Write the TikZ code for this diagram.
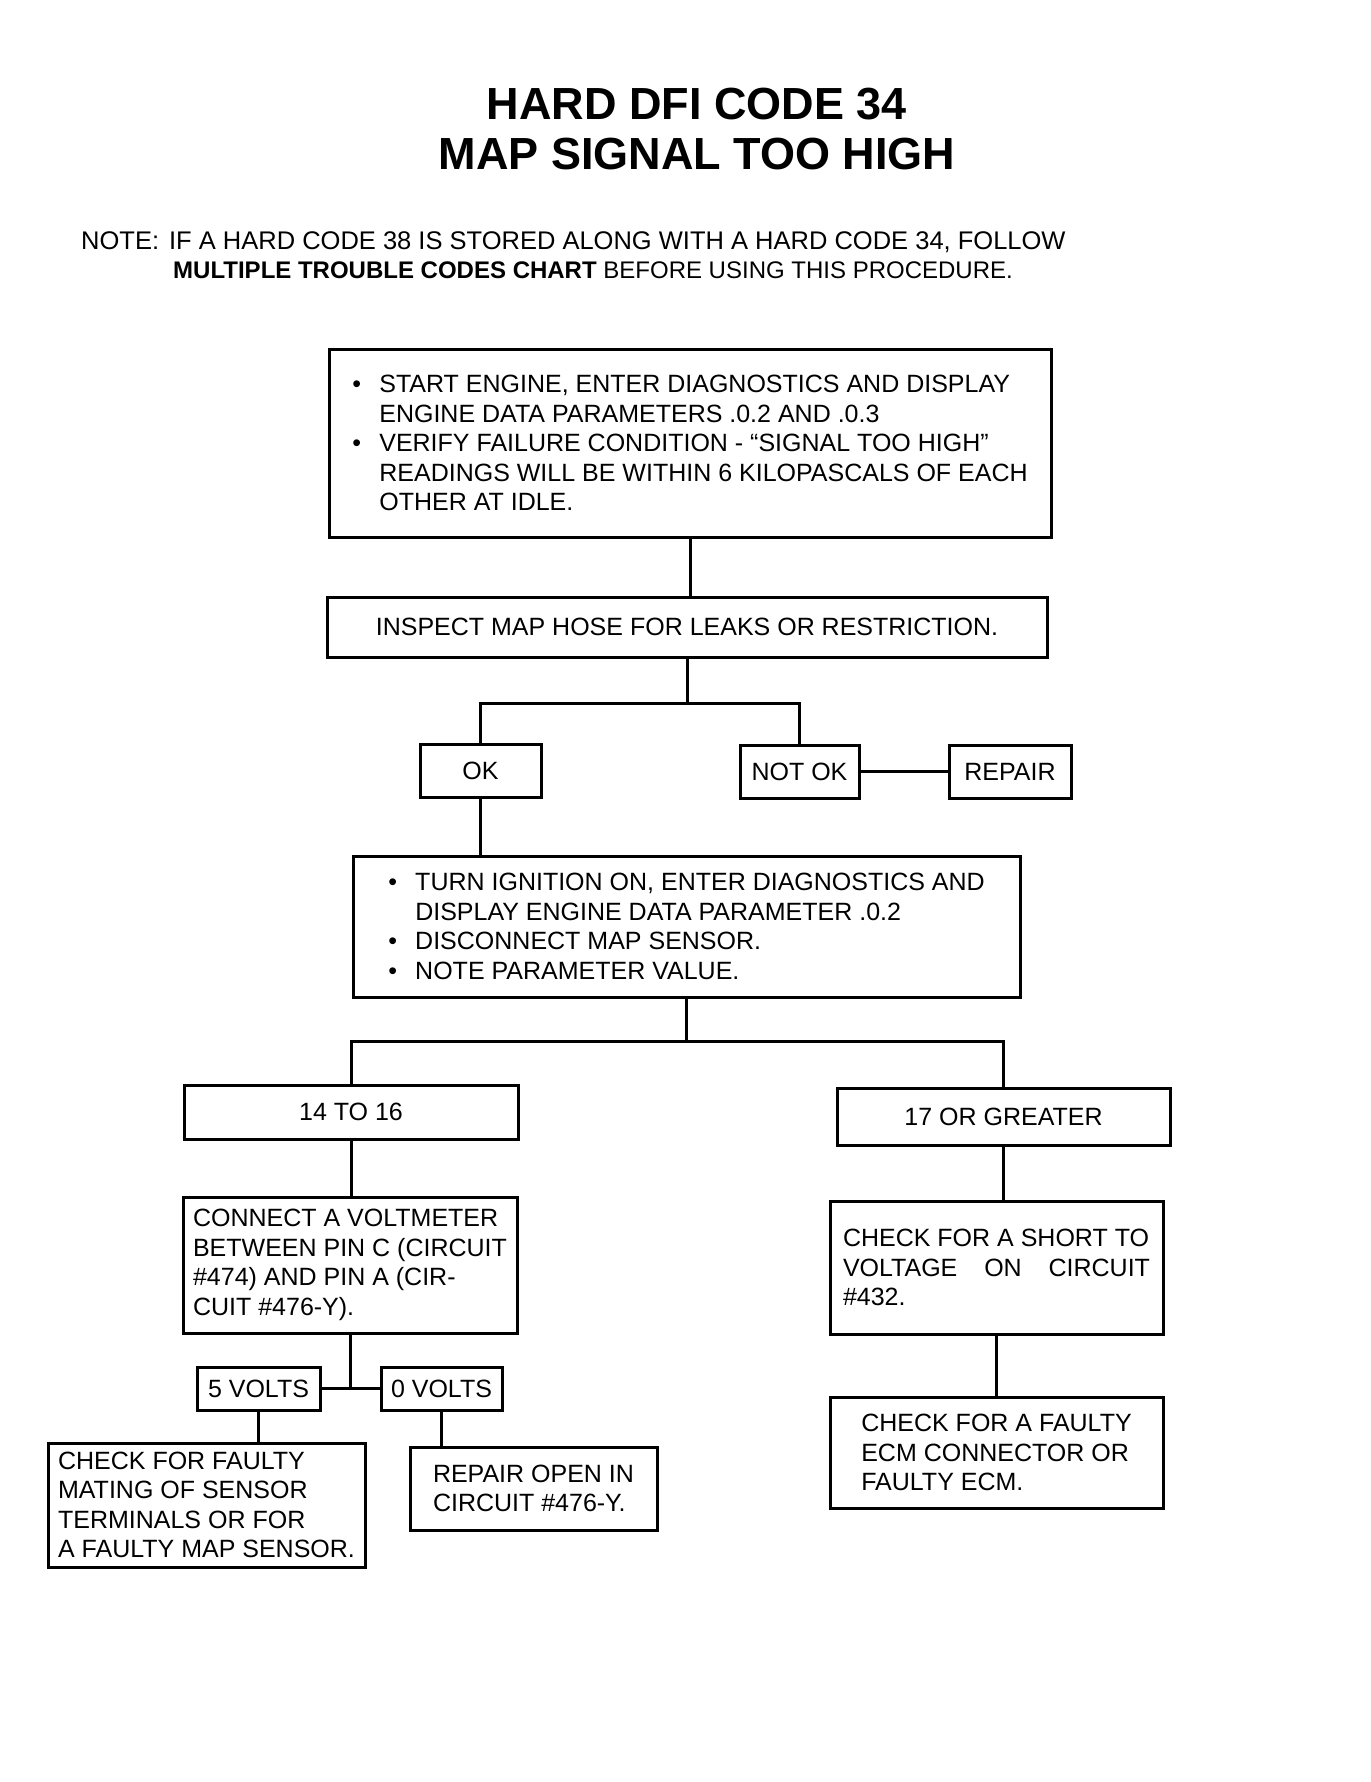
\documentclass[tikz,border=0pt]{standalone}
\usepackage{fontspec}
\setmainfont{Liberation Sans}
\def\bul{\makebox[27pt][l]{\textbullet}}
\def\ind{\hspace*{27pt}}

\begin{document}
\begin{tikzpicture}[x=1pt, y=-1pt,
		box/.style={draw, line width=3pt, inner sep=0pt, align=left, font=\fontsize{25}{29.5}\selectfont},
		link/.style={line width=3pt},
	]
	\useasboundingbox (0,0) rectangle (1370,1782);
	% heading and note
	\node[align=center, inner sep=0pt, font=\fontsize{45}{50}\selectfont\bfseries] (title) at (697,129) {HARD DFI CODE 34\\MAP SIGNAL TOO HIGH};
	\node[anchor=north west, align=left, inner sep=0pt, font=\fontsize{25.5}{29}\selectfont] (note) at (81,231) {NOTE:\hspace{10pt}IF A HARD CODE 38 IS STORED ALONG WITH A HARD CODE 34, FOLLOW\\\fontsize{24}{29}\selectfont\hspace*{92pt}\textbf{MULTIPLE TROUBLE CODES CHART} BEFORE USING THIS PROCEDURE.};
	% boxes
	\node[box, minimum width=722, minimum height=188] (start) at (690,443) {\bul START ENGINE, ENTER DIAGNOSTICS AND DISPLAY\\\ind ENGINE DATA PARAMETERS .0.2 AND .0.3\\\bul VERIFY FAILURE CONDITION - ``SIGNAL TOO HIGH''\\\ind READINGS WILL BE WITHIN 6 KILOPASCALS OF EACH\\\ind OTHER AT IDLE.};
	\node[box, minimum width=720, minimum height=60] (hose) at (687,627) {INSPECT MAP HOSE FOR LEAKS OR RESTRICTION.};
	\node[box, minimum width=121, minimum height=53] (ok) at (480.5,770.5) {OK};
	\node[box, minimum width=119, minimum height=53] (notok) at (799.5,771.5) {NOT OK};
	\node[box, minimum width=122, minimum height=53] (repair) at (1010,771.5) {REPAIR};
	\node[box, minimum width=667, minimum height=141] (ign) at (686.5,926.5) {\bul TURN IGNITION ON, ENTER DIAGNOSTICS AND\\\ind DISPLAY ENGINE DATA PARAMETER .0.2\\\bul DISCONNECT MAP SENSOR.\\\bul NOTE PARAMETER VALUE.};
	\node[box, minimum width=334, minimum height=54] (low) at (351,1112) {14 TO 16};
	\node[box, minimum width=333, minimum height=57] (high) at (1003.5,1116.5) {17 OR GREATER};
	\node[box, minimum width=334, minimum height=136] (volt) at (350,1265) {CONNECT A VOLTMETER\\BETWEEN PIN C (CIRCUIT\\\#474) AND PIN A (CIR-\\CUIT \#476-Y).};
	\node[box, minimum width=123, minimum height=43] (fivev) at (258.5,1388.5) {5 VOLTS};
	\node[box, minimum width=121, minimum height=43] (zerov) at (441.5,1388.5) {0 VOLTS};
	\node[box, minimum width=317, minimum height=124] (mating) at (206.5,1505) {CHECK FOR FAULTY\\MATING OF SENSOR\\TERMINALS OR FOR\\A FAULTY MAP SENSOR.};
	\node[box, minimum width=247, minimum height=83] (open) at (533.5,1488.5) {REPAIR OPEN IN\\CIRCUIT \#476-Y.};
	\node[box, minimum width=333, minimum height=133] (short) at (996.5,1267.5) {CHECK FOR A SHORT TO\\\makebox[307pt][s]{VOLTAGE ON CIRCUIT}\\\#432.};
	\node[box, minimum width=333, minimum height=111] (ecm) at (996.5,1452.5) {CHECK FOR A FAULTY\\ECM CONNECTOR OR\\FAULTY ECM.};
	% connectors
	\coordinate (j1) at (687,703);
	\coordinate (j2) at (686.5,1041);
	\draw[link] (start.south) -- (start.south |- hose.north);
	\draw[link] (hose.south) -- (j1);
	\draw[link] (ok.north) |- (j1) -| (notok.north);
	\draw[link] (notok.east) -- (repair.west);
	\draw[link] (ok.south) -- (ok.south |- ign.north);
	\draw[link] (ign.south) -- (j2);
	\draw[link] (low.north) |- (j2) -| (high.north);
	\draw[link] (low.south) -- (low.south |- volt.north);
	\draw[link] (volt.south) -- (volt.south |- fivev.east);
	\draw[link] (fivev.east) -- (zerov.west);
	\draw[link] (fivev.south) -- (fivev.south |- mating.north);
	\draw[link] (zerov.south) -- (zerov.south |- open.north);
	\draw[link] (high.south) -- (high.south |- short.north);
	\draw[link] (short.south) -- (short.south |- ecm.north);
\end{tikzpicture}
\end{document}
